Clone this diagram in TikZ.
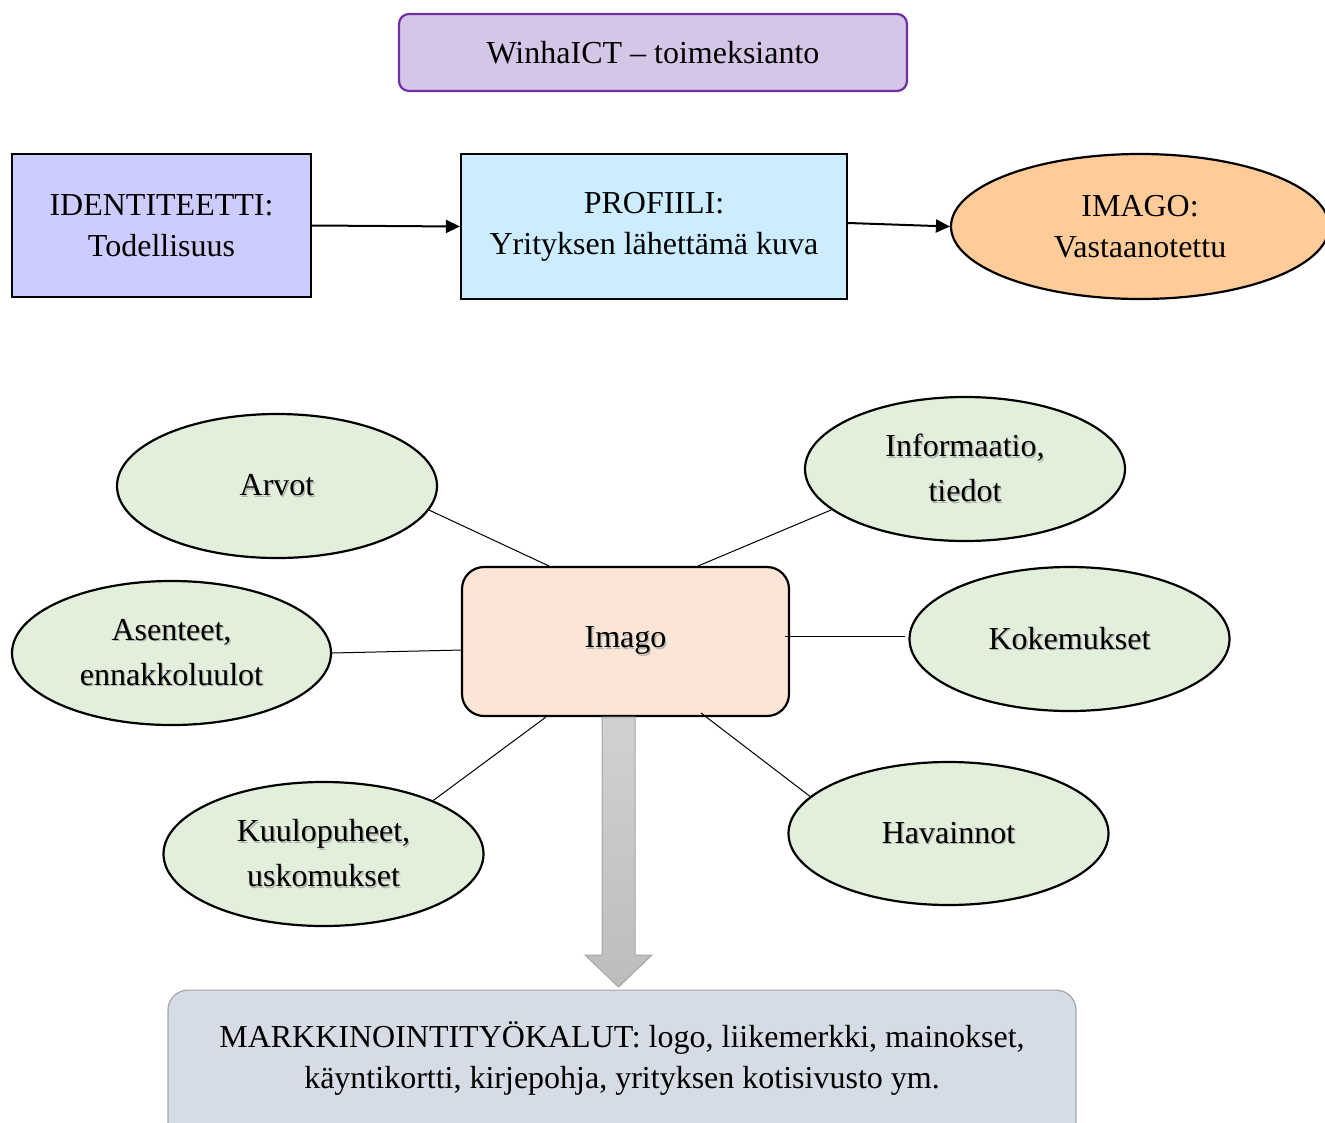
\documentclass[tikz,border=0pt]{standalone}
\usepackage{fontspec}
\setmainfont{Liberation Serif}
\usetikzlibrary{shapes.geometric,arrows.meta,calc}
\definecolor{titlefill}{RGB}{213,197,230}
\definecolor{titledraw}{RGB}{112,48,160}
\definecolor{identfill}{RGB}{204,204,255}
\definecolor{proffill}{RGB}{204,236,255}
\definecolor{imgfill}{RGB}{255,204,153}
\definecolor{greenfill}{RGB}{226,239,218}
\definecolor{imagofill}{RGB}{251,229,214}
\definecolor{bottomfill}{RGB}{214,220,229}
\definecolor{bottomdraw}{RGB}{166,166,166}
\newcommand\shd[1]{\leavevmode\rlap{\kern1.3pt\raisebox{-1.3pt}{\textcolor{black!30}{#1}}}#1}
\tikzset{
  txt/.style={font=\fontsize{32}{41}\selectfont, align=center, text=black},
  sqbox/.style={txt, draw=black, line width=2.2pt, inner sep=0pt},
  oval/.style={txt, font=\fontsize{32}{45}\selectfont, ellipse, draw=black, line width=2.2pt, inner sep=0pt, fill=greenfill, minimum width=320pt, minimum height=144pt},
  conn/.style={draw=black, line width=1pt},
  arr/.style={draw=black, line width=2pt, -{Triangle[length=14pt,width=13pt]}},
}
\begin{document}
\begin{tikzpicture}[x=1pt,y=-1pt]
\clip (0,0) rectangle (1325,1122);
\fill[white] (0,0) rectangle (1325,1122);

\node[sqbox, draw=titledraw, fill=titlefill, rounded corners=10pt, minimum width=508pt, minimum height=77pt] (title) at (653,52.5) {WinhaICT -- toimeksianto};

\node[sqbox, fill=identfill, minimum width=299pt, minimum height=143pt] (ident) at (161.5,225.5) {IDENTITEETTI:\\Todellisuus};
\node[sqbox, fill=proffill, minimum width=386pt, minimum height=145pt] (prof) at (654,226.5) {PROFIILI:\\Yrityksen lähettämä kuva};
\node[txt, ellipse, draw=black, line width=2.2pt, inner sep=0pt, fill=imgfill, minimum width=378pt, minimum height=145pt] (imgov) at (1140,226.5) {IMAGO:\\Vastaanotettu};

\draw[arr] (ident.east) -- (prof.west);
\draw[arr] (prof.east |- 0,223) -- (imgov.west);

\node[sqbox, fill=imagofill, rounded corners=22pt, minimum width=327pt, minimum height=149pt] (imago) at (625.5,641.5) {\shd{Imago}};

\node[oval] (arvot) at (277,486) {\shd{Arvot}};
\node[oval] (info) at (965,469) {\shd{Informaatio,}\\\shd{tiedot}};
\node[oval, minimum width=319pt] (asen) at (171.5,653) {\shd{Asenteet,}\\\shd{ennakkoluulot}};
\node[oval] (koke) at (1069.5,639) {\shd{Kokemukset}};
\node[oval] (kuulo) at (323.5,854) {\shd{Kuulopuheet,}\\\shd{uskomukset}};
\node[oval, minimum height=143pt] (hava) at (948.5,833.5) {\shd{Havainnot}};

\coordinate (c1) at (549,566);
\coordinate (c2) at (698,566);
\coordinate (c3) at (462,650);
\coordinate (c4) at (785,636);
\coordinate (c5) at (546,717);
\coordinate (c6) at (701,713);
\coordinate (e4) at (905,636);
\draw[conn] (arvot.-9.3) -- (c1);
\draw[conn] (info.-163.1) -- (c2);
\draw[conn] (asen.east) -- (c3);
\draw[conn] (c4) -- (e4);
\draw[conn] (kuulo.26) -- (c5);
\draw[conn] (c6) -- (hava.165.2);

\node[sqbox, draw=bottomdraw, line width=1.2pt, fill=bottomfill, rounded corners=20pt, minimum width=908pt, minimum height=160pt, anchor=north] (tools) at (622,989.5) {};
\node[txt] (toolstxt) at (622,1058.5) {MARKKINOINTITYÖKALUT: logo, liikemerkki, mainokset,\\käyntikortti, kirjepohja, yrityksen kotisivusto ym.};

\shade[top color=black!18, bottom color=black!26, draw=bottomdraw, line width=1pt]
  (602,717) -- (635,717) -- (635,955) -- (652,955) -- (618.5,987) -- (585,955) -- (602,955) -- cycle;
\end{tikzpicture}
\end{document}
